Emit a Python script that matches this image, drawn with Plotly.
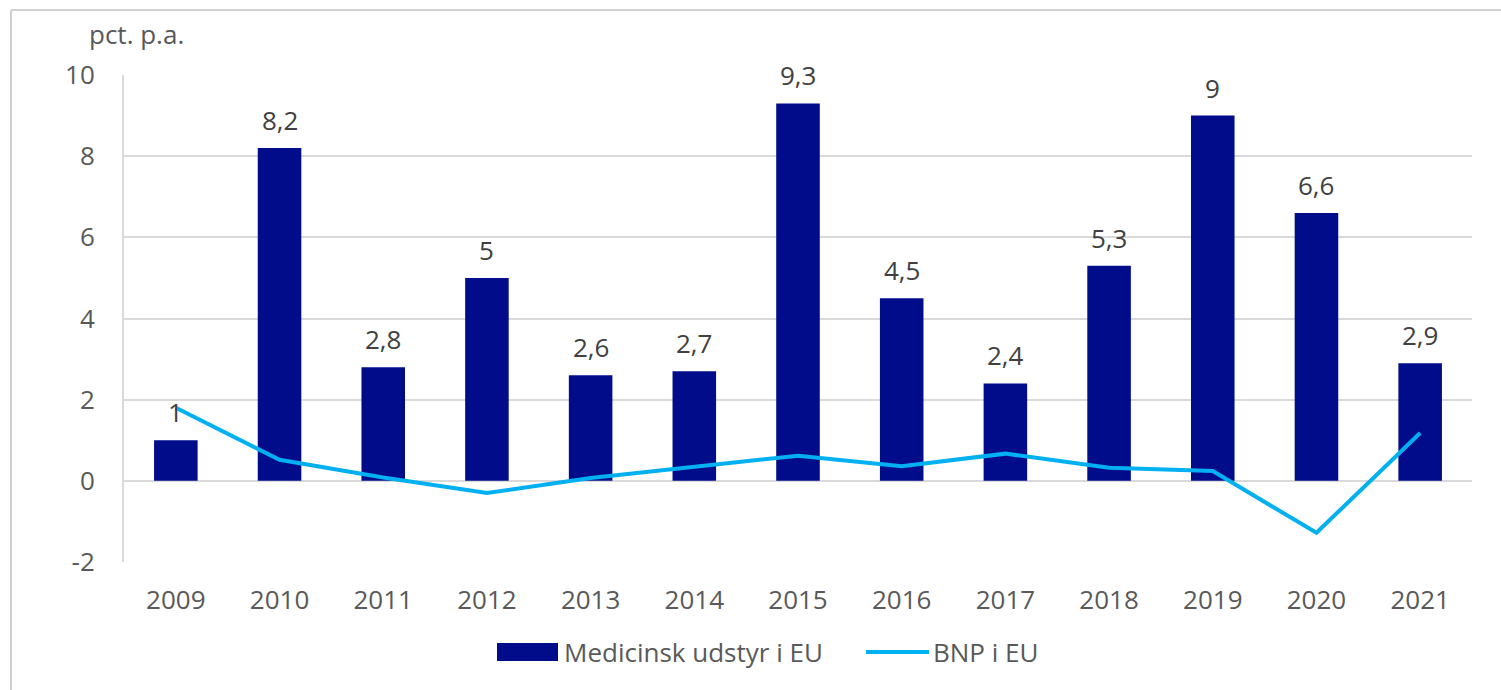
import plotly.graph_objects as go

years = ["2009", "2010", "2011", "2012", "2013", "2014", "2015", "2016", "2017", "2018", "2019", "2020", "2021"]
medicinsk = [1, 8.2, 2.8, 5, 2.6, 2.7, 9.3, 4.5, 2.4, 5.3, 9, 6.6, 2.9]
bnp = [1.8, 0.52, 0.08, -0.3, 0.07, 0.35, 0.62, 0.36, 0.67, 0.32, 0.24, -1.28, 1.18]
y_ticks = [-2, 0, 2, 4, 6, 8, 10]

W, H = 1501, 690
L, R, T, B = 124, 1472, 75, 562

def px(x):
    return (x - L) / (R - L)

def py(y):
    return (B - y) / (B - T)

FONT = "Open Sans"
BAR_COLOR = "#000C8A"
LINE_COLOR = "#00B0F0"
GRID = "#D9D9D9"
TXT = "#595959"

fig = go.Figure()
fig.add_trace(go.Bar(x=years, y=medicinsk, marker=dict(color=BAR_COLOR, line=dict(width=0)),
                     name="Medicinsk udstyr i EU", showlegend=False))
fig.add_trace(go.Scatter(x=years, y=bnp, mode="lines", line=dict(color=LINE_COLOR, width=4),
                         name="BNP i EU", showlegend=False))

annotations = []
for i, v in enumerate(medicinsk):
    annotations.append(dict(x=i, y=v, xref="x", yref="y", text=f"{v:g}".replace(".", ","),
                            showarrow=False, yanchor="bottom", yshift=8,
                            font=dict(family=FONT, size=26, color="#404040")))

annotations.append(dict(x=px(87), y=py(34), xref="paper", yref="paper", text="pct. p.a.",
                        showarrow=False, xanchor="left", yanchor="middle",
                        font=dict(family=FONT, size=26, color=TXT)))
annotations.append(dict(x=px(562), y=py(652), xref="paper", yref="paper", text="Medicinsk udstyr i EU",
                        showarrow=False, xanchor="left", yanchor="middle",
                        font=dict(family=FONT, size=26, color=TXT)))
annotations.append(dict(x=px(931), y=py(652), xref="paper", yref="paper", text="BNP i EU",
                        showarrow=False, xanchor="left", yanchor="middle",
                        font=dict(family=FONT, size=26, color=TXT)))

shapes = [
    dict(type="rect", xref="paper", yref="paper", x0=px(497), x1=px(558), y0=py(661), y1=py(643),
         fillcolor=BAR_COLOR, line=dict(width=0)),
    dict(type="line", xref="paper", yref="paper", x0=px(866), x1=px(929), y0=py(652), y1=py(652),
         line=dict(color=LINE_COLOR, width=4)),
    # outer frame
    dict(type="line", xref="paper", yref="paper", x0=px(11), x1=px(1520), y0=py(10), y1=py(10),
         line=dict(color="#D0D0D0", width=2)),
    dict(type="line", xref="paper", yref="paper", x0=px(11), x1=px(11), y0=py(10), y1=py(720),
         line=dict(color="#D0D0D0", width=2)),
]

fig.update_layout(
    width=W, height=H,
    margin=dict(l=L, r=W - R, t=T, b=H - B),
    paper_bgcolor="white", plot_bgcolor="white",
    bargap=0.58,
    showlegend=False,
    annotations=annotations,
    shapes=shapes,
    font=dict(family=FONT, size=26, color=TXT),
)
fig.update_xaxes(type="category", range=[-0.5, len(years) - 0.5], showgrid=False, showline=False,
                 zeroline=False, ticks="", ticklabelstandoff=20,
                 tickfont=dict(family=FONT, size=26, color=TXT))
fig.update_yaxes(range=[-2, 10], tickvals=y_ticks, ticktext=[str(t) for t in y_ticks],
                 showgrid=True, gridcolor=GRID, gridwidth=2,
                 zeroline=True, zerolinecolor=GRID, zerolinewidth=2,
                 showline=True, linecolor=GRID, linewidth=2,
                 ticks="", ticklabelstandoff=22,
                 tickfont=dict(family=FONT, size=26, color=TXT))

fig.write_html("out.html", config={"displayModeBar": False},
               post_script="document.body.style.margin='0';document.body.style.overflow='hidden';")
